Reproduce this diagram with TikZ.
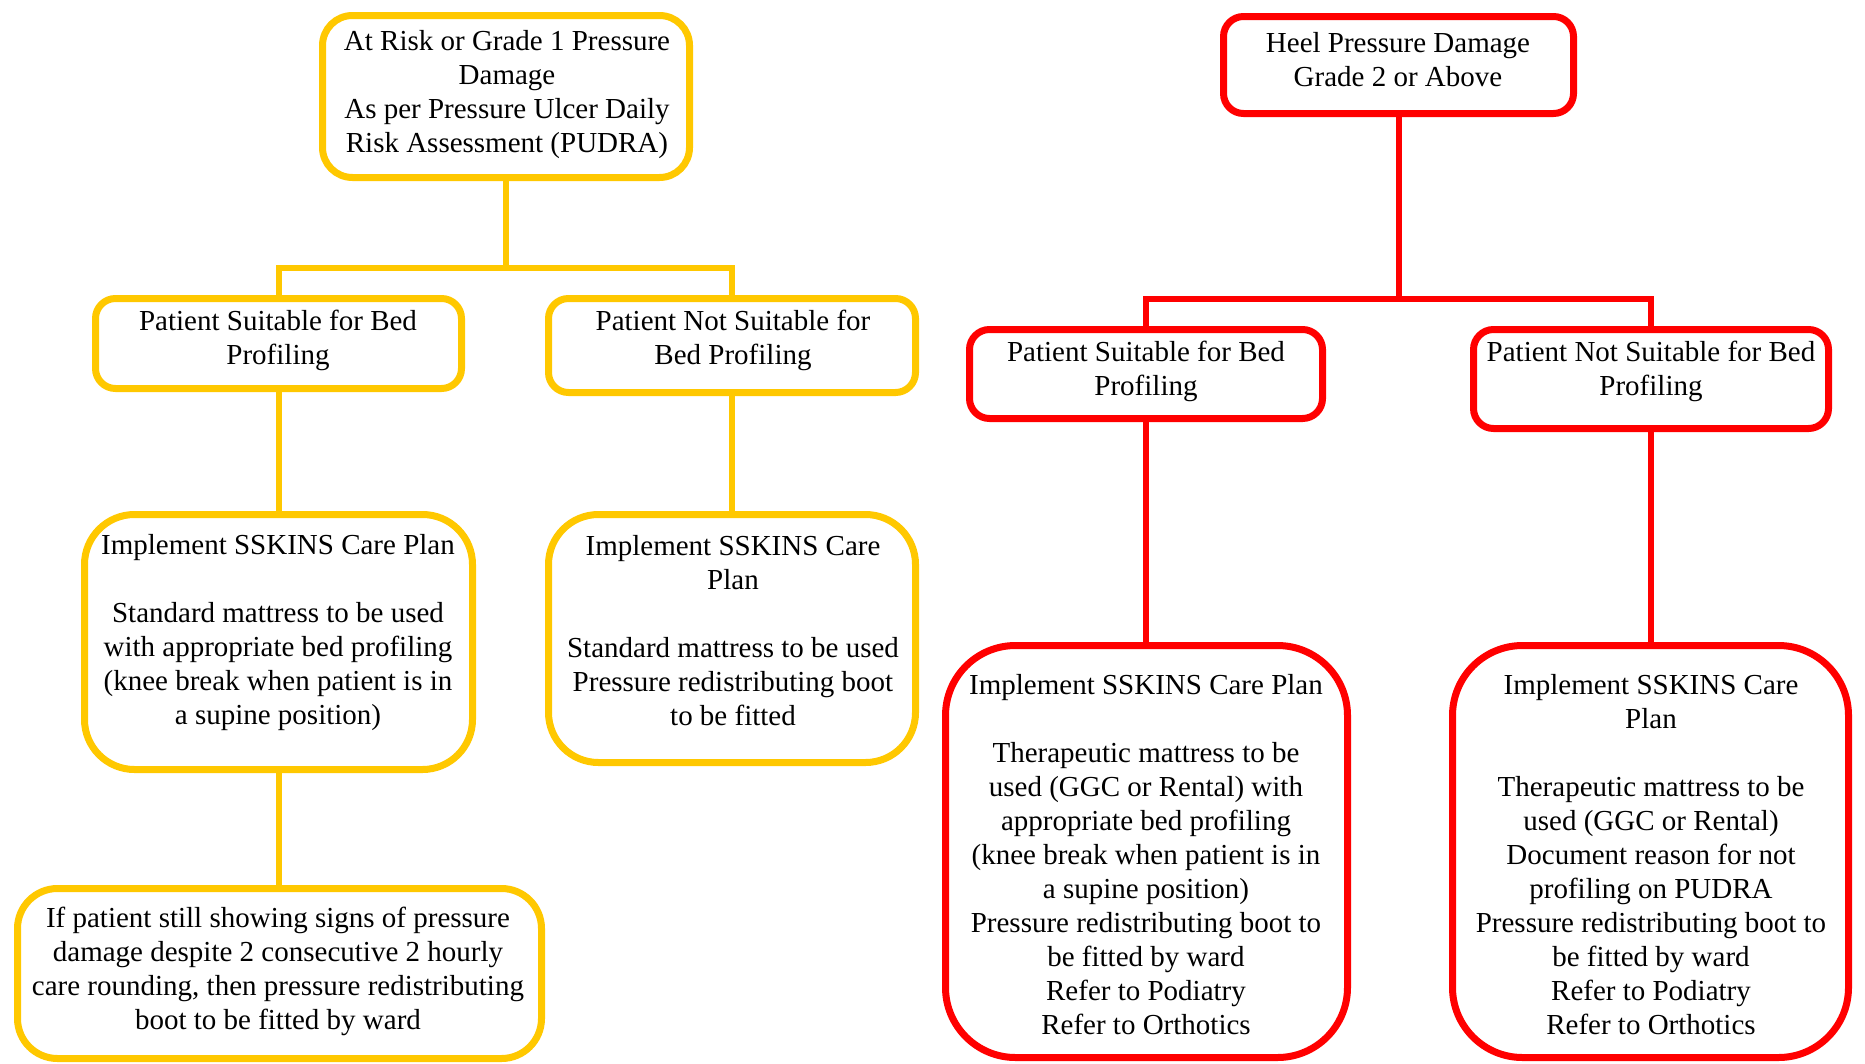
\documentclass[tikz,border=0pt]{standalone}
\usepackage{fontspec}
\setmainfont{Liberation Serif}
\definecolor{ygold}{RGB}{255,200,0}
\definecolor{rred}{RGB}{255,0,0}
\tikzset{
  ybox/.style={draw=ygold, line width=7pt, rectangle, fill=white, inner sep=0pt},
  rbox/.style={draw=rred, line width=7pt, rectangle, fill=white, inner sep=0pt},
  yline/.style={draw=ygold, line width=6pt},
  rline/.style={draw=rred, line width=6pt},
  txt/.style={align=center, inner sep=0pt, font=\fontsize{29}{34}\selectfont}
}
\begin{document}
\begin{tikzpicture}[x=1pt,y=-1pt]
\useasboundingbox (0,0) rectangle (1865,1063);
\fill[white] (0,0) rectangle (1865,1063);
% left tree boxes
\node[ybox, rounded corners=30pt, minimum width=367pt, minimum height=162pt] (A) at (506,96.5) {};
\node[ybox, rounded corners=20pt, minimum width=366pt, minimum height=90pt] (S1) at (278.5,343.5) {};
\node[ybox, rounded corners=20pt, minimum width=367pt, minimum height=94pt] (S2) at (732,345.5) {};
\node[ybox, rounded corners=50pt, minimum width=388pt, minimum height=255pt] (I1) at (278.5,642) {};
\node[ybox, rounded corners=50pt, minimum width=367pt, minimum height=248pt] (I2) at (732,638.5) {};
\node[ybox, rounded corners=40pt, minimum width=524pt, minimum height=170pt] (B) at (279.5,973.5) {};
% right tree boxes
\node[rbox, rounded corners=20pt, minimum width=350pt, minimum height=97pt] (H) at (1398.5,65) {};
\node[rbox, rounded corners=20pt, minimum width=353pt, minimum height=89pt] (R1) at (1146,374) {};
\node[rbox, rounded corners=20pt, minimum width=355pt, minimum height=99pt] (R2) at (1651,379) {};
\node[rbox, rounded corners=70pt, minimum width=402pt, minimum height=412pt] (RI1) at (1146.5,851.5) {};
\node[rbox, rounded corners=70pt, minimum width=396pt, minimum height=412pt] (RI2) at (1650.5,851.5) {};
% texts
\node[txt] (At) at (507,95) {At Risk or Grade 1 Pressure\\Damage\\As per Pressure Ulcer Daily\\Risk Assessment (PUDRA)};
\node[txt] (S1t) at (278,340.5) {Patient Suitable for Bed\\Profiling};
\node[txt] (S2t) at (733,340.5) {Patient Not Suitable for\\Bed Profiling};
\node[txt] (I1t) at (278,632.5) {Implement SSKINS Care Plan\\[34pt]Standard mattress to be used\\with appropriate bed profiling\\(knee break when patient is in\\a supine position)};
\node[txt] (I2t) at (733,631) {Implement SSKINS Care\\Plan\\[34pt]Standard mattress to be used\\Pressure redistributing boot\\to be fitted};
\node[txt] (Bt) at (278,971) {If patient still showing signs of pressure\\damage despite 2 consecutive 2 hourly\\care rounding, then pressure redistributing\\boot to be fitted by ward};
\node[txt] (Ht) at (1398,60) {Heel Pressure Damage\\Grade 2 or Above};
\node[txt] (R1t) at (1146,371) {Patient Suitable for Bed\\Profiling};
\node[txt] (R2t) at (1651,371) {Patient Not Suitable for Bed\\Profiling};
\node[txt] (RI1t) at (1146,854.5) {Implement SSKINS Care Plan\\[34pt]Therapeutic mattress to be\\used (GGC or Rental) with\\appropriate bed profiling\\(knee break when patient is in\\a supine position)\\Pressure redistributing boot to\\be fitted by ward\\Refer to Podiatry\\Refer to Orthotics};
\node[txt] (RI2t) at (1651,854.5) {Implement SSKINS Care\\Plan\\[34pt]Therapeutic mattress to be\\used (GGC or Rental)\\Document reason for not\\profiling on PUDRA\\Pressure redistributing boot to\\be fitted by ward\\Refer to Podiatry\\Refer to Orthotics};
% connectors
\coordinate (jL) at (506,268);
\coordinate (jR) at (1398.5,298.5);
\draw[yline] (A.south) -- (jL);
\draw[yline] (jL) -| (S1.north);
\draw[yline] (jL) -| (S2.north);
\draw[yline] (S1.south) -- (I1.north);
\draw[yline] (S2.south) -- (I2.north);
\draw[yline] (I1.south) -- (I1.south |- B.north);
\draw[rline] (H.south) -- (jR);
\draw[rline] (jR) -| (R1.north);
\draw[rline] (jR) -| (R2.north);
\draw[rline] (R1.south) -- (RI1.north -| R1.south);
\draw[rline] (R2.south) -- (RI2.north -| R2.south);
\end{tikzpicture}
\end{document}
